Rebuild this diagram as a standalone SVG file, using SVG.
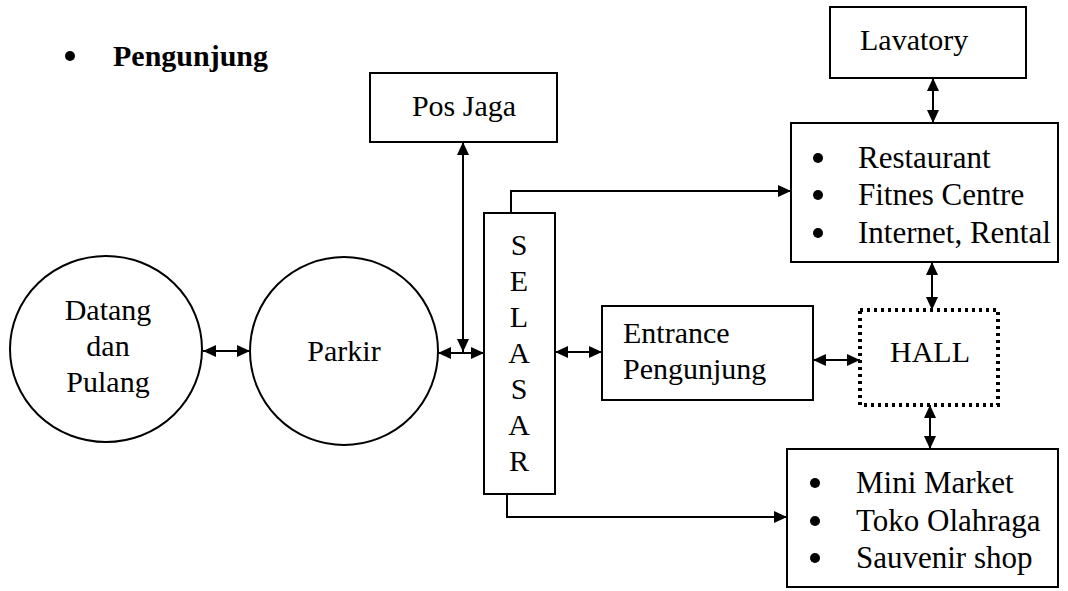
<svg xmlns="http://www.w3.org/2000/svg" width="1068" height="591" viewBox="0 0 1068 591">
  <style>
    .box { fill: #ffffff; stroke: #000000; stroke-width: 2; }
    .hall { fill: #ffffff; stroke: #000000; stroke-width: 4; stroke-dasharray: 3 4; }
    .lbl { font-family: "Liberation Serif", "Times New Roman", serif; font-size: 30px; fill: #000000; }
    .item { font-size: 31px; }
    .mid { text-anchor: middle; }
    .title { font-weight: bold; }
    .dot { fill: #000000; }
    .link { fill: none; stroke: #000000; stroke-width: 2; }
    .two { marker-start: url(#head); marker-end: url(#head); }
    .one { marker-end: url(#head); }
  </style>
  <defs>
    <marker id="head" markerUnits="userSpaceOnUse" markerWidth="14" markerHeight="12" refX="13" refY="6" orient="auto-start-reverse">
      <path d="M0,0 L13,6 L0,12 z" fill="#000000"/>
    </marker>
  </defs>

  <rect width="1068" height="591" fill="#ffffff"/>

  <!-- heading -->
  <g id="heading">
    <circle class="dot" cx="70" cy="56" r="5"/>
    <text class="lbl title" x="113" y="66">Pengunjung</text>
  </g>

  <!-- nodes -->
  <g id="datang">
    <ellipse class="box" cx="106" cy="349" rx="96" ry="93"/>
    <text class="lbl mid" x="108" y="320">Datang</text>
    <text class="lbl mid" x="108" y="356">dan</text>
    <text class="lbl mid" x="108" y="392">Pulang</text>
  </g>

  <g id="parkir">
    <ellipse class="box" cx="344" cy="351" rx="94" ry="94"/>
    <text class="lbl mid" x="344" y="361">Parkir</text>
  </g>

  <g id="pos-jaga">
    <rect class="box" x="370" y="73" width="187" height="69"/>
    <text class="lbl mid" x="464" y="116">Pos Jaga</text>
  </g>

  <g id="selasar">
    <rect class="box" x="484" y="213" width="71" height="281"/>
    <text class="lbl mid" x="519" y="255">S</text>
    <text class="lbl mid" x="519" y="291">E</text>
    <text class="lbl mid" x="519" y="327">L</text>
    <text class="lbl mid" x="519" y="363">A</text>
    <text class="lbl mid" x="519" y="399">S</text>
    <text class="lbl mid" x="519" y="435">A</text>
    <text class="lbl mid" x="519" y="471">R</text>
  </g>

  <g id="entrance">
    <rect class="box" x="602" y="306" width="211" height="94"/>
    <text class="lbl" x="623" y="343">Entrance</text>
    <text class="lbl" x="623" y="379">Pengunjung</text>
  </g>

  <g id="hall">
    <rect class="hall" x="860" y="310" width="138" height="95"/>
    <text class="lbl mid" x="930" y="362">HALL</text>
  </g>

  <g id="lavatory">
    <rect class="box" x="830" y="7" width="196" height="71"/>
    <text class="lbl" x="860" y="50">Lavatory</text>
  </g>

  <g id="fasilitas">
    <rect class="box" x="791" y="123" width="267" height="139"/>
    <circle class="dot" cx="818" cy="158" r="5"/>
    <circle class="dot" cx="818" cy="195" r="5"/>
    <circle class="dot" cx="818" cy="233" r="5"/>
    <text class="lbl item" x="858" y="168">Restaurant</text>
    <text class="lbl item" x="858" y="205">Fitnes Centre</text>
    <text class="lbl item" x="858" y="243">Internet, Rental</text>
  </g>

  <g id="toko">
    <rect class="box" x="787" y="449" width="271" height="138"/>
    <circle class="dot" cx="815" cy="483" r="5"/>
    <circle class="dot" cx="815" cy="521" r="5"/>
    <circle class="dot" cx="815" cy="558" r="5"/>
    <text class="lbl item" x="856" y="493">Mini Market</text>
    <text class="lbl item" x="856" y="531">Toko Olahraga</text>
    <text class="lbl item" x="856" y="568">Sauvenir shop</text>
  </g>

  <!-- connectors -->
  <g id="connectors">
    <line class="link two" x1="203" y1="351" x2="250" y2="351"/>
    <line class="link two" x1="438" y1="353" x2="484" y2="353"/>
    <line class="link two" x1="463" y1="142" x2="463" y2="352"/>
    <line class="link two" x1="555" y1="352" x2="602" y2="352"/>
    <line class="link two" x1="813" y1="360" x2="860" y2="360"/>
    <line class="link two" x1="933" y1="78" x2="933" y2="123"/>
    <line class="link two" x1="932" y1="262" x2="932" y2="310"/>
    <line class="link two" x1="930" y1="405" x2="930" y2="449"/>
    <polyline class="link one" points="511,213 511,191 791,191"/>
    <polyline class="link one" points="507,494 507,517 787,517"/>
  </g>
</svg>
